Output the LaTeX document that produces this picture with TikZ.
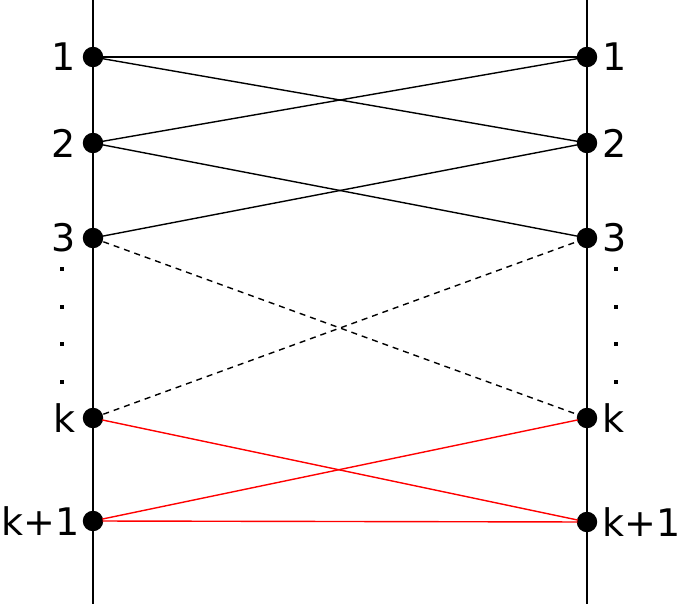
\documentclass[tikz,border=0pt]{standalone}
\usepackage{fontspec}
\setmainfont{DejaVu Sans}
\usetikzlibrary{positioning}

\begin{document}
\begin{tikzpicture}[x=1pt,y=-1pt,
		pt/.style={draw,circle,fill=black,inner sep=0pt,minimum size=19pt},
		lab/.style={font=\fontsize{38}{38}\selectfont,inner sep=0pt},
		dt/.style={fill=black,rectangle,inner sep=0pt,minimum size=3.5pt},
		line width=1.4pt
		]
		\useasboundingbox (0,0) rectangle (681,604);
		% the two vertical lines
		\coordinate (lt) at (93,0);
		\coordinate (lb) at (93,604);
		\coordinate (rt) at (587,0);
		\coordinate (rb) at (587,604);
		\draw (lt) -- (lb);
		\draw (rt) -- (rb);
		% points on the left and on the right
		\node [pt] (l1) at (93,57) {};
		\node [pt] (l2) at (93,143) {};
		\node [pt] (l3) at (93,238) {};
		\node [pt] (lk) at (93,418) {};
		\node [pt] (lk1) at (93,521) {};
		\node [pt] (r1) at (587,57) {};
		\node [pt] (r2) at (587,143) {};
		\node [pt] (r3) at (587,238) {};
		\node [pt] (rk) at (587,418) {};
		\node [pt] (rk1) at (587,522) {};
		% labels
		\node [lab,left=17pt of l1.center] (tl1) {1};
		\node [lab,left=17pt of l2.center] (tl2) {2};
		\node [lab,left=17pt of l3.center] (tl3) {3};
		\node [lab,left=17pt of lk.center] (tlk) {k};
		\node [lab,left=13pt of lk1.center] (tlk1) {k+1};
		\node [lab,right=15pt of r1.center] (tr1) {1};
		\node [lab,right=15pt of r2.center] (tr2) {2};
		\node [lab,right=15pt of r3.center] (tr3) {3};
		\node [lab,right=15pt of rk.center] (trk) {k};
		\node [lab,right=15pt of rk1.center] (trk1) {k+1};
		% dots
		\foreach \y [count=\i] in {269,307,344,382} {
			\node [dt] (dl\i) at (62,\y) {};
			\node [dt] (dr\i) at (616,\y) {};
		}
		% connections
		\draw (l1.center) -- (r1.center);
		\draw (l1.center) -- (r2.center);
		\draw (l2.center) -- (r1.center);
		\draw (l2.center) -- (r3.center);
		\draw (l3.center) -- (r2.center);
		\draw[dashed,dash pattern=on 6pt off 5pt] (l3.center) -- (rk.center);
		\draw[dashed,dash pattern=on 6pt off 5pt] (lk.center) -- (r3.center);
		\draw[red] (lk.center) -- (rk1.center);
		\draw[red] (lk1.center) -- (rk.center);
		\draw[red] (lk1.center) -- (rk1.center);
		% points drawn again over the lines
		\foreach \n in {l1,l2,l3,lk,lk1,r1,r2,r3,rk,rk1}
		\fill (\n.center) circle (9.5pt);
\end{tikzpicture}
\end{document}
